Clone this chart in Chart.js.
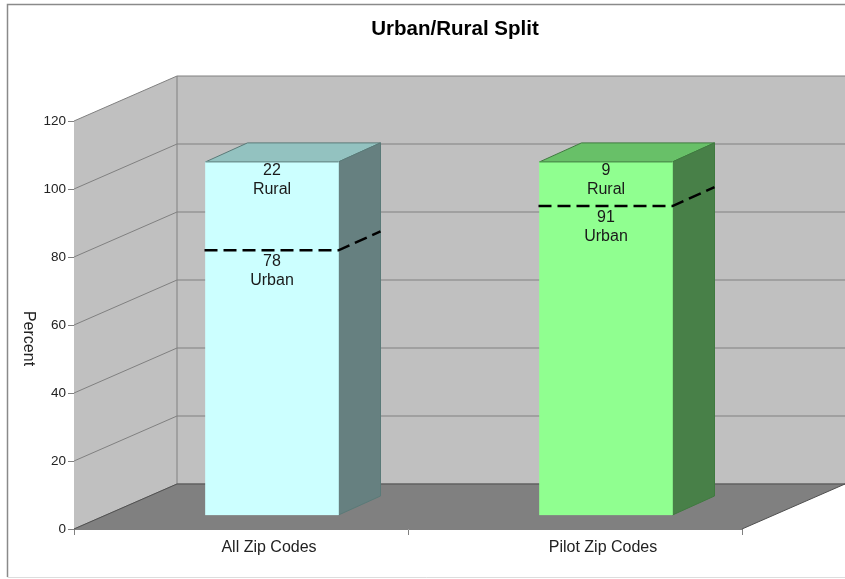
<!DOCTYPE html>
<html>
<head>
<meta charset="utf-8">
<title>Urban/Rural Split</title>
<script src="https://cdn.jsdelivr.net/npm/chart.js@4"></script>
<style>
    html, body { margin: 0; padding: 0; background: #fff; }
    #box { position: relative; width: 845px; height: 579px; }
</style>
</head>
<body>
<div id="box"><canvas id="grafica" width="845" height="579"></canvas></div>
<script>
const categorias = ['All Zip Codes', 'Pilot Zip Codes'];
const urbano = [78, 91];
// height of the upper block as drawn in the picture (the printed labels say 22 and 9)
const ruralDibujado = [26, 13];
const ruralEtiqueta = [22, 9];
const urbanoEtiqueta = [78, 91];
const coloresFrente = ['#ccffff', '#90ff90'];
const coloresArriba = ['#93c2c0', '#68c068'];
const coloresLado = ['#668080', '#488048'];
const coloresBorde = ['#5a7a78', '#3f7a3f'];

const fuente = '"Liberation Sans", Arial, sans-serif';

// depth of the whole box and of the bars, and where the bars sit inside the box
const fondo = { x: 103, y: -45 };
const prof = { x: 42, y: -19 };
const desplazado = { x: 31, y: -13.5 };

const cuerpo3d = {
    id: 'cuerpo3d',
    beforeDatasetsDraw(chart) {
        const { ctx, chartArea: a, scales } = chart;
        const y = scales.y;

        ctx.save();

        // marco
        ctx.strokeStyle = '#8a8a8a';
        ctx.lineWidth = 1.5;
        ctx.beginPath();
        ctx.moveTo(7.5, 577);
        ctx.lineTo(7.5, 4.5);
        ctx.lineTo(845, 4.5);
        ctx.stroke();
        ctx.strokeStyle = '#dddddd';
        ctx.lineWidth = 1;
        ctx.beginPath();
        ctx.moveTo(7.5, 577.5);
        ctx.lineTo(845, 577.5);
        ctx.stroke();

        // titulo
        ctx.fillStyle = '#000000';
        ctx.font = 'bold 20.5px ' + fuente;
        ctx.textAlign = 'center';
        ctx.textBaseline = 'middle';
        ctx.fillText('Urban/Rural Split', 455, 29);

        // pared del fondo
        const arriba = y.getPixelForValue(120) + fondo.y;
        const abajo = y.getPixelForValue(0) + fondo.y;
        const xFondo = a.left + fondo.x;
        ctx.fillStyle = '#c0c0c0';
        ctx.fillRect(xFondo, arriba, a.right + fondo.x - xFondo, abajo - arriba);

        // pared izquierda
        ctx.beginPath();
        ctx.moveTo(a.left, y.getPixelForValue(120));
        ctx.lineTo(xFondo, arriba);
        ctx.lineTo(xFondo, abajo);
        ctx.lineTo(a.left, y.getPixelForValue(0));
        ctx.closePath();
        ctx.fill();

        // piso
        ctx.fillStyle = '#808080';
        ctx.beginPath();
        ctx.moveTo(a.left, y.getPixelForValue(0));
        ctx.lineTo(xFondo, abajo);
        ctx.lineTo(a.right + fondo.x, abajo);
        ctx.lineTo(a.right, y.getPixelForValue(0));
        ctx.closePath();
        ctx.fill();

        // lineas de la grilla
        ctx.strokeStyle = '#808080';
        ctx.lineWidth = 1;
        y.ticks.forEach(t => {
            const py = y.getPixelForValue(t.value);
            ctx.beginPath();
            ctx.moveTo(a.left, py);
            ctx.lineTo(xFondo, py + fondo.y);
            ctx.lineTo(a.right + fondo.x, py + fondo.y);
            ctx.stroke();
        });
        ctx.beginPath();
        ctx.moveTo(xFondo, arriba);
        ctx.lineTo(xFondo, abajo);
        ctx.stroke();
        ctx.strokeStyle = '#505050';
        ctx.beginPath();
        ctx.moveTo(a.left, y.getPixelForValue(0));
        ctx.lineTo(xFondo, abajo);
        ctx.lineTo(a.right + fondo.x, abajo);
        ctx.lineTo(a.right, y.getPixelForValue(0));
        ctx.stroke();

        // caras de arriba y del lado, antes del frente
        const metaBajo = chart.getDatasetMeta(0);
        const metaAlto = chart.getDatasetMeta(1);
        metaAlto.data.forEach((el, i) => {
            const izq = el.x - el.width / 2 + desplazado.x;
            const der = el.x + el.width / 2 + desplazado.x;
            const tope = el.y + desplazado.y;
            const base = metaBajo.data[i].base + desplazado.y;
            ctx.strokeStyle = coloresBorde[i];
            ctx.lineWidth = 1;
            ctx.fillStyle = coloresArriba[i];
            ctx.beginPath();
            ctx.moveTo(izq, tope);
            ctx.lineTo(izq + prof.x, tope + prof.y);
            ctx.lineTo(der + prof.x, tope + prof.y);
            ctx.lineTo(der, tope);
            ctx.closePath();
            ctx.fill();
            ctx.stroke();
            ctx.fillStyle = coloresLado[i];
            ctx.beginPath();
            ctx.moveTo(der, tope);
            ctx.lineTo(der + prof.x, tope + prof.y);
            ctx.lineTo(der + prof.x, base + prof.y);
            ctx.lineTo(der, base);
            ctx.closePath();
            ctx.fill();
            ctx.stroke();
        });
        ctx.restore();

        // the bars themselves are drawn by the library, moved into the box
        ctx.save();
        ctx.translate(desplazado.x, desplazado.y);
    },
    afterDatasetsDraw(chart) {
        const { ctx } = chart;
        ctx.restore();

        const metaBajo = chart.getDatasetMeta(0);
        const metaAlto = chart.getDatasetMeta(1);
        ctx.save();

        // borde de arriba del frente
        metaAlto.data.forEach((el, i) => {
            const tope = el.y + desplazado.y;
            ctx.strokeStyle = coloresBorde[i];
            ctx.lineWidth = 1;
            ctx.beginPath();
            ctx.moveTo(el.x - el.width / 2 + desplazado.x, tope);
            ctx.lineTo(el.x + el.width / 2 + desplazado.x, tope);
            ctx.stroke();
        });

        // linea punteada entre urbano y rural
        metaBajo.data.forEach(el => {
            const izq = el.x - el.width / 2 + desplazado.x;
            const der = el.x + el.width / 2 + desplazado.x;
            const py = el.y + desplazado.y;
            ctx.strokeStyle = '#000000';
            ctx.lineWidth = 2.5;
            ctx.setLineDash([13, 6]);
            ctx.beginPath();
            ctx.moveTo(izq - 1, py);
            ctx.lineTo(der, py);
            ctx.lineTo(der + prof.x, py + prof.y);
            ctx.stroke();
        });
        ctx.setLineDash([]);

        // textos dentro de las barras
        ctx.fillStyle = '#1a1a1a';
        ctx.font = '16px ' + fuente;
        ctx.textAlign = 'center';
        ctx.textBaseline = 'middle';
        metaAlto.data.forEach((el, i) => {
            const cx = el.x + desplazado.x;
            const tope = el.y + desplazado.y;
            ctx.fillText(String(ruralEtiqueta[i]), cx, tope + 9);
            ctx.fillText('Rural', cx, tope + 28);
            const corte = metaBajo.data[i].y + desplazado.y;
            ctx.fillText(String(urbanoEtiqueta[i]), cx, corte + 11);
            ctx.fillText('Urban', cx, corte + 30);
        });

        // titulo del eje, girado hacia la derecha
        ctx.fillStyle = '#222222';
        ctx.translate(28, 338.5);
        ctx.rotate(Math.PI / 2);
        ctx.fillText('Percent', 0, 0);
        ctx.restore();
    }
};

new Chart(document.getElementById('grafica').getContext('2d'), {
    type: 'bar',
    data: {
        labels: categorias,
        datasets: [
            { label: 'Urban', data: urbano, backgroundColor: coloresFrente, barThickness: 133 },
            { label: 'Rural', data: ruralDibujado, backgroundColor: coloresFrente, barThickness: 133 }
        ]
    },
    options: {
        responsive: false,
        animation: false,
        layout: { padding: { left: 0, right: 103, top: 121, bottom: 0 } },
        plugins: {
            legend: { display: false },
            tooltip: { enabled: false },
            title: { display: false }
        },
        scales: {
            x: {
                stacked: true,
                afterFit(s) { s.height = 50; },
                grid: { offset: true, drawOnChartArea: false, color: '#808080', tickLength: 6 },
                border: { color: '#808080' },
                ticks: {
                    color: '#222222',
                    font: { family: fuente, size: 16 },
                    labelOffset: 28,
                    padding: 3,
                    maxRotation: 0
                }
            },
            y: {
                stacked: true,
                min: 0,
                max: 120,
                afterFit(s) { s.width = 74; },
                grid: { drawOnChartArea: false, color: '#808080', tickLength: 6 },
                border: { color: '#808080' },
                ticks: {
                    stepSize: 20,
                    color: '#222222',
                    font: { family: fuente, size: 13.5 },
                    padding: 2
                }
            }
        }
    },
    plugins: [cuerpo3d]
});
</script>
</body>
</html>
